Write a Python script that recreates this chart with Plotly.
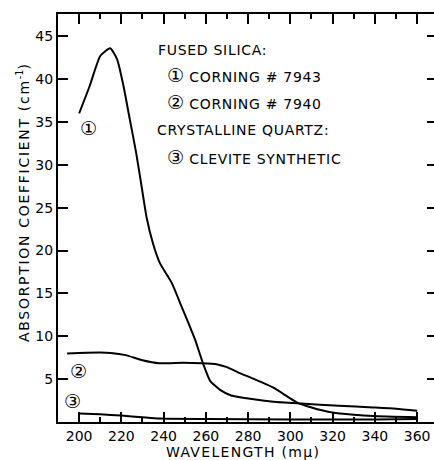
import plotly.graph_objects as go

# ---- data ----
c1_x = [200, 205, 210, 214.7, 218, 221, 224, 227, 229.5, 232, 235, 238.3, 243.9, 248.6, 252, 254.9, 258.7, 262, 266.7, 272, 281, 292, 305, 323, 339, 350, 360]
c1_y = [36.0, 39.2, 42.7, 43.6, 42.3, 39.2, 35.3, 31.4, 27.6, 23.8, 20.8, 18.5, 16.2, 13.4, 11.4, 9.6, 6.8, 4.8, 3.75, 3.1, 2.7, 2.35, 2.15, 1.9, 1.7, 1.55, 1.3]

c2_x = [194.3, 200, 210, 215, 222, 230, 238, 249, 258, 265, 270, 276, 281, 292, 303, 310, 320, 330, 339, 360]
c2_y = [8.0, 8.05, 8.1, 8.05, 7.8, 7.2, 6.85, 6.9, 6.85, 6.75, 6.4, 5.7, 5.2, 4.0, 2.3, 1.7, 1.1, 0.85, 0.7, 0.55]

c3_x = [200, 210, 220, 230, 238, 260, 300, 340, 360]
c3_y = [1.0, 0.9, 0.75, 0.55, 0.4, 0.35, 0.3, 0.3, 0.35]

curve_labels = ["①", "②", "③"]
label_x = [204.3, 199.5, 196.7]
label_y = [34.3, 6.0, 2.5]

x_ticks = list(range(200, 361, 20))
y_ticks = list(range(5, 46, 5))

legend_lines = ["FUSED SILICA:", "① CORNING # 7943", "② CORNING # 7940",
                "CRYSTALLINE QUARTZ:", "③ CLEVITE SYNTHETIC"]

FONT = "DejaVu Sans"


def spaced(t, ls):
    return '<span style="letter-spacing:%spx">%s</span>' % (ls, t)


fig = go.Figure()
for xs, ys in [(c1_x, c1_y), (c2_x, c2_y), (c3_x, c3_y)]:
    fig.add_trace(go.Scatter(x=xs, y=ys, mode="lines",
                             line=dict(color="black", width=2, shape="spline", smoothing=0.5),
                             showlegend=False, hoverinfo="skip"))
# dummy trace for right-hand tick axis
fig.add_trace(go.Scatter(x=[c3_x[0]], y=[c3_y[0]], yaxis="y2", mode="markers",
                         marker=dict(opacity=0), showlegend=False, hoverinfo="skip"))

# curve labels
for t, x, y in zip(curve_labels, label_x, label_y):
    fig.add_annotation(x=x, y=y, text=t, showarrow=False,
                       font=dict(family=FONT, size=19, color="black"))

# legend text block
leg_x = [156, 165, 165, 155, 165]
leg_y = [50, 75, 102, 130, 157]
for t, px, py in zip(legend_lines, leg_x, leg_y):
    if t[0] in "①②③":
        txt = '<span style="font-size:19px">' + t[0] + '</span>' + spaced(t[1:], 0.7)
    else:
        txt = spaced(t, 0.7)
    fig.add_annotation(xref="paper", yref="paper", x=(px - 58) / 376, y=(422 - py) / 408,
                       xanchor="left", yanchor="middle", text=txt, showarrow=False,
                       font=dict(family=FONT, size=14, color="black"))

# axis titles
fig.add_annotation(xref="paper", yref="paper", x=(23 - 58) / 376, y=(422 - 202) / 408,
                   text=spaced("ABSORPTION COEFFICIENT (cm", 1.7) + "<sup>-1</sup>" + spaced(")", 1.7),
                   textangle=-90,
                   showarrow=False, xanchor="center", yanchor="middle",
                   font=dict(family=FONT, size=14, color="black"))
fig.add_annotation(xref="paper", yref="paper", x=(243 - 58) / 376, y=(422 - 452) / 408,
                   text=spaced("WAVELENGTH (m\u03bc)", 1.3), showarrow=False,
                   xanchor="center", yanchor="middle",
                   font=dict(family=FONT, size=14, color="black"))

fig.update_layout(
    width=434, height=460,
    margin=dict(l=58, r=0, t=14, b=38),
    paper_bgcolor="white", plot_bgcolor="white",
    xaxis=dict(range=[190, 368], tickvals=x_ticks, ticks="inside", ticklen=10,
               tickwidth=1.5, tickcolor="black", showline=True, linecolor="black",
               linewidth=2, mirror="ticks", showgrid=False, zeroline=False,
               minor=dict(dtick=10, tick0=200, ticks="inside", ticklen=5, tickcolor="black", tickwidth=1.5),
               tickfont=dict(family=FONT, size=14, color="black")),
    yaxis=dict(range=[0, 47.6], tickvals=y_ticks, ticks="inside", ticklen=10,
               tickwidth=1.5, tickcolor="black", showline=True, linecolor="black",
               linewidth=2, mirror=False, showgrid=False, zeroline=False,
               tickfont=dict(family=FONT, size=14, color="black")),
    yaxis2=dict(range=[0, 47.6], tickvals=y_ticks, ticks="inside", ticklen=7,
                tickwidth=1.5, tickcolor="black", showline=False, overlaying="y",
                side="right", showticklabels=False, showgrid=False, zeroline=False),
)

fig.write_html("out.html")
